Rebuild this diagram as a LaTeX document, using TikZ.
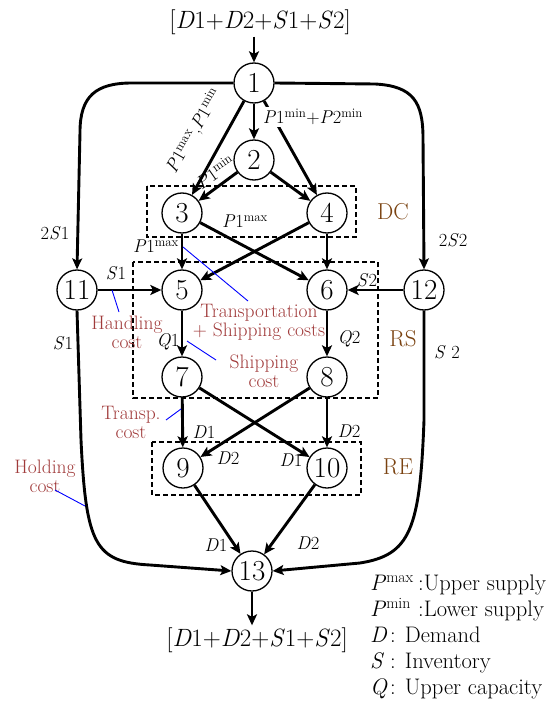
\documentclass[tikz,border=0pt]{standalone}
\usetikzlibrary{arrows.meta}
\definecolor{costred}{RGB}{160,58,58}
\definecolor{zonebrown}{RGB}{122,66,16}
\newcommand{\ivar}[1]{\textit{#1}}
\newcommand{\sups}[1]{\textsuperscript{#1}}
\begin{document}
\begin{tikzpicture}[x=1pt,y=-1pt,
  nd/.style={circle,draw,line width=1.3pt,minimum size=40pt,inner sep=0pt,
    font=\fontsize{29}{29}\selectfont},
  arr/.style={line width=2.9pt,-{Stealth[length=11pt,width=10pt,inset=2.5pt]}},
  dashbox/.style={draw,line width=1.8pt,dash pattern=on 5pt off 3pt},
  lbl/.style={inner sep=0pt,font=\fontsize{18.5}{20}\selectfont},
  cost/.style={inner sep=0pt,align=center,text=costred,
    font=\fontsize{19.5}{19}\selectfont},
  zone/.style={inner sep=0pt,text=zonebrown,font=\fontsize{23}{23}\selectfont},
  pointer/.style={draw=blue,line width=0.9pt},
  legend/.style={anchor=base west,inner sep=0pt,font=\fontsize{22.5}{24}\selectfont}]
\useasboundingbox (0,0) rectangle (556,703);

% dashed zones
\draw[dashbox] (147,186) rectangle (356,237);
\draw[dashbox] (133,262) rectangle (378,398);
\draw[dashbox] (152,442) rectangle (361,495);

% network nodes
\node[nd] (n1)  at (254,83)  {1};
\node[nd] (n2)  at (254,160) {2};
\node[nd] (n3)  at (182,213) {3};
\node[nd] (n4)  at (327,213) {4};
\node[nd] (n5)  at (182,290) {5};
\node[nd] (n6)  at (327,290) {6};
\node[nd] (n7)  at (182,377) {7};
\node[nd] (n8)  at (327,377) {8};
\node[nd] (n9)  at (183,468) {9};
\node[nd] (n10) at (327,468) {10};
\node[nd] (n11) at (77,290)  {11};
\node[nd] (n12) at (424,290) {12};
\node[nd] (n13) at (252,571) {13};

% source and sink totals
\node[inner sep=2pt,font=\fontsize{25}{25}\selectfont] (top) at (260,22)
  {[\ivar{D}1+\ivar{D}2+\ivar{S}1+\ivar{S}2]};
\node[inner sep=2pt,font=\fontsize{25}{25}\selectfont] (bot) at (257,640)
  {[\ivar{D}1+\ivar{D}2+\ivar{S}1+\ivar{S}2]};
\draw[arr] (top.south -| n1) -- (n1);
\draw[arr] (n13) -- (bot.north -| n13);

% supply stage
\draw[arr] (n1) -- (n2);
\draw[arr] (n1) -- (n3);
\draw[arr] (n1) -- (n4);
\draw[arr] (n2) -- (n3);
\draw[arr] (n2) -- (n4);
% distribution centres to retail stores
\draw[arr] (n3) -- (n5);
\draw[arr] (n3) -- (n6);
\draw[arr] (n4) -- (n5);
\draw[arr] (n4) -- (n6);
\draw[arr] (n11) -- (n5);
\draw[arr] (n12) -- (n6);
\draw[arr] (n5) -- (n7);
\draw[arr] (n6) -- (n8);
% retail stores to retailers
\draw[arr] (n7) -- (n9);
\draw[arr] (n7) -- (n10);
\draw[arr] (n8) -- (n9);
\draw[arr] (n8) -- (n10);
\draw[arr] (n9) -- (n13);
\draw[arr] (n10) -- (n13);

% inventory loops
\draw[arr] (n1.west) -- (132,83) .. controls (96,83) and (80,96) .. (80,132) -- (n11.north);
\draw[arr] (n1.east) -- (375,84) .. controls (413,86) and (423,102) .. (423,138) -- (n12.north);
\draw[arr] (n11.south) -- (81,440) .. controls (86,545) and (95,562) .. (150,565) -- (n13.west);
\draw[arr] (n12.south) -- (424,420) .. controls (420,530) and (410,555) .. (360,563) -- (n13.east);

% flow labels
\node[lbl,rotate=60] (lP1mm) at (194,131)
  {\ivar{P}1\sups{max},\ivar{P}1\sups{min}};
\node[lbl,fill=white,inner sep=2pt] (lP12) at (313,117)
  {\ivar{P}1\sups{min}+\ivar{P}2\sups{min}};
\node[lbl,rotate=35] (lP1min) at (215,172) {\ivar{P}1\sups{min}};
\node[lbl] (lP1maxA) at (156,246) {\ivar{P}1\sups{max}};
\node[lbl] (lP1maxB) at (245,221) {\ivar{P}1\sups{max}};
\node[lbl] (l2S1) at (55,233) {2\ivar{S}1};
\node[lbl] (l2S2) at (453,240) {2\ivar{S}2};
\node[lbl] (lS1a) at (116,273) {\ivar{S}1};
\node[lbl] (lS2a) at (367,280) {\ivar{S}2};
\node[lbl] (lS1b) at (63,343) {\ivar{S}1};
\node[lbl] (lS2b) at (447,352) {\ivar{S} 2};
\node[lbl] (lQ1) at (168,342) {\ivar{Q}1};
\node[lbl] (lQ2) at (349,339) {\ivar{Q}2};
\node[lbl] (lD1a) at (204,432) {\ivar{D}1};
\node[lbl] (lD2a) at (349,431) {\ivar{D}2};
\node[lbl] (lD2b) at (228,458) {\ivar{D}2};
\node[lbl] (lD1b) at (291,460) {\ivar{D}1};
\node[lbl] (lD1c) at (216,545) {\ivar{D}1};
\node[lbl] (lD2c) at (308,543) {\ivar{D}2};

% zone names
\node[zone] (zDC) at (393,212) {DC};
\node[zone] (zRS) at (403,339) {RS};
\node[zone] (zRE) at (398,467) {RE};

% cost annotations with pointers
\node[cost] (cHand) at (127,332) {Handling\\cost};
\node[cost] (cTrSh) at (259,322) {Transportation\\+ Shipping costs};
\node[cost] (cShip) at (264,371) {Shipping\\cost};
\node[cost] (cTran) at (131,422) {Transp.\\cost};
\node[cost] (cHold) at (45,476) {Holding\\cost};
\coordinate (pHa) at (112,290); \coordinate (pHb) at (119,312);
\coordinate (pTa) at (183,247); \coordinate (pTb) at (248,301);
\coordinate (pSa) at (187,341); \coordinate (pSb) at (216,360);
\coordinate (pRa) at (181,409); \coordinate (pRb) at (166,420);
\coordinate (pOa) at (85,506);  \coordinate (pOb) at (55,490);
\draw[pointer] (pHa) -- (pHb);
\draw[pointer] (pTa) -- (pTb);
\draw[pointer] (pSa) -- (pSb);
\draw[pointer] (pRa) -- (pRb);
\draw[pointer] (pOa) -- (pOb);

% legend
\node[legend] (g1) at (370,590) {\makebox[48pt][l]{\ivar{P}\sups{max}}:Upper supply};
\node[legend] (g2) at (370,616) {\makebox[48pt][l]{\ivar{P}\sups{min}}:Lower supply};
\node[legend] (g3) at (370,642) {\makebox[20pt][l]{\ivar{D}}: Demand};
\node[legend] (g4) at (370,668) {\makebox[20pt][l]{\ivar{S}}: Inventory};
\node[legend] (g5) at (370,694) {\makebox[20pt][l]{\ivar{Q}}: Upper capacity};
\end{tikzpicture}
\end{document}
